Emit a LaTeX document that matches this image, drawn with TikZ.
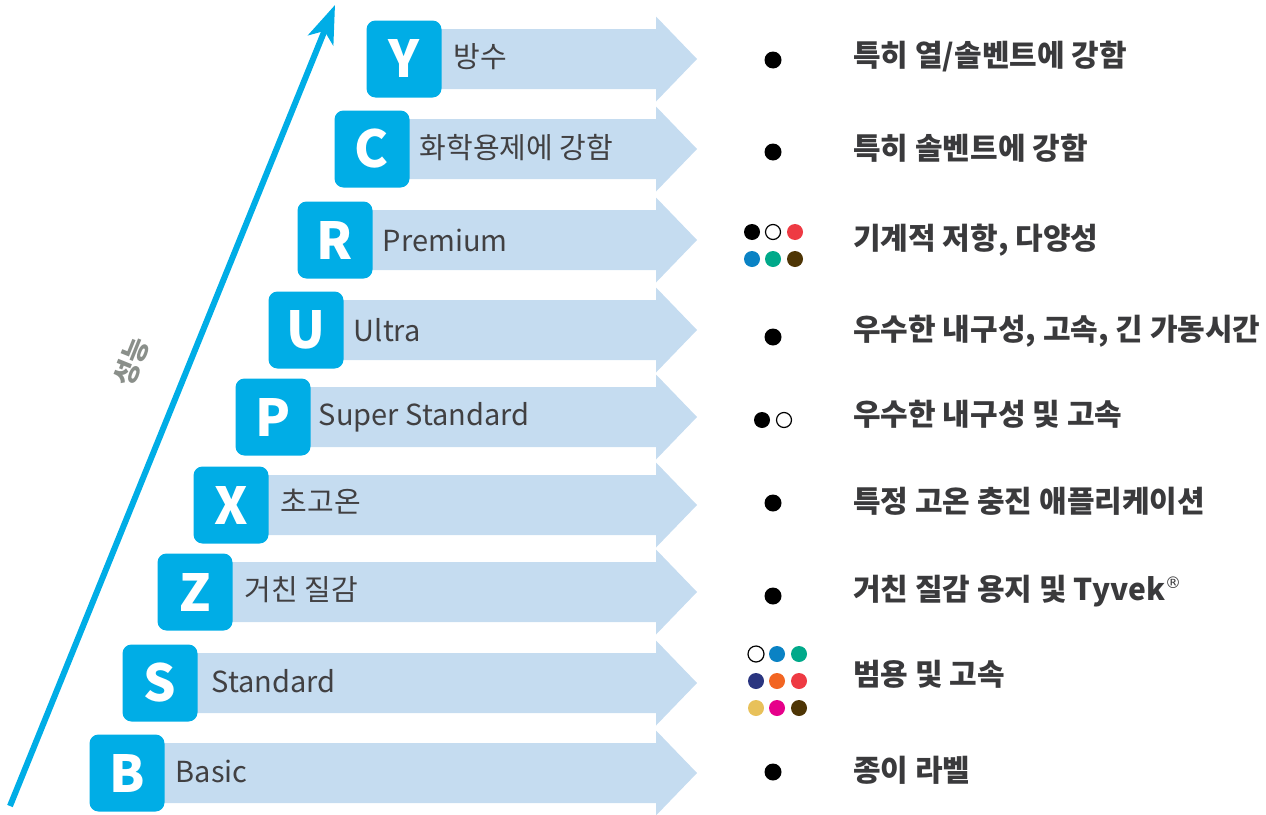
\documentclass[tikz,border=0pt]{standalone}
\usepackage{fontspec}
\setmainfont{Noto Sans CJK KR}
\newfontfamily\symfont{DejaVu Sans}
\usetikzlibrary{arrows.meta}
\definecolor{cyanbox}{HTML}{00ADE6}
\definecolor{bandc}{HTML}{C5DCF0}
\definecolor{txt}{HTML}{414042}
\definecolor{rtxt}{HTML}{3A3A3C}
\definecolor{lbl}{HTML}{8A8F8A}
\definecolor{dblue}{HTML}{0A82C4}
\definecolor{dteal}{HTML}{00A98A}
\definecolor{dred}{HTML}{EE3A43}
\definecolor{dbrown}{HTML}{4E3505}
\definecolor{dnavy}{HTML}{2A3580}
\definecolor{dorange}{HTML}{F26522}
\definecolor{dyellow}{HTML}{E8C15A}
\definecolor{dmagenta}{HTML}{E6008A}
\begin{document}
\begin{tikzpicture}[x=1pt,y=-1pt,
  letterbox/.style={fill=cyanbox, rounded corners=9pt, minimum width=75pt, minimum height=77pt,
    inner sep=0pt, text=white, font=\fontsize{51}{51}\selectfont\bfseries},
  bandtext/.style={anchor=west, inner sep=0pt, text=txt, font=\fontsize{29}{29}\selectfont},
  righttext/.style={anchor=west, inner sep=0pt, text=rtxt, font=\fontsize{30}{30}\selectfont\bfseries},
  dotb/.style={circle, fill=black, inner sep=0pt, minimum size=17pt},
  dotc/.style={circle, fill=#1, inner sep=0pt, minimum size=16pt},
  doto/.style={circle, draw=black, line width=1.2pt, fill=white, inner sep=0pt, minimum size=15pt},
  bandfill/.style={fill=bandc}
]
\useasboundingbox (0,0) rectangle (1266,814);

% bands
\foreach \cx/\cy in {404/59,372/149,335/240,306/330,273/417,231/505,195/592,160/683,127/773}{
  \fill[bandfill] (\cx,\cy-30) -- (656,\cy-30) -- (656,\cy-42.5) -- (697,\cy) -- (656,\cy+42.5) -- (656,\cy+30) -- (\cx,\cy+30) -- cycle;
}

% letter boxes
\node[letterbox] (bY) at (404,59) {Y};
\node[letterbox] (bC) at (372,149) {C};
\node[letterbox] (bR) at (335,240) {R};
\node[letterbox] (bU) at (306,330) {U};
\node[letterbox] (bP) at (273,417) {P};
\node[letterbox] (bX) at (231,505) {X};
\node[letterbox] (bZ) at (195,592) {Z};
\node[letterbox] (bS) at (160,683) {S};
\node[letterbox] (bB) at (127,773) {B};

% band texts
\node[bandtext] (tY) at ([xshift=12pt,yshift=2pt]bY.east) {방수};
\node[bandtext] (tC) at ([xshift=10pt,yshift=1pt]bC.east) {화학용제에 강함};
\node[bandtext] (tR) at ([xshift=10pt]bR.east) {Premium};
\node[bandtext] (tU) at ([xshift=10pt]bU.east) {Ultra};
\node[bandtext] (tP) at ([xshift=8pt]bP.east) {Super Standard};
\node[bandtext] (tX) at ([xshift=12pt,yshift=3pt]bX.east) {초고온};
\node[bandtext] (tZ) at ([xshift=12pt,yshift=2pt]bZ.east) {거친 질감};
\node[bandtext] (tS) at ([xshift=14pt,yshift=2pt]bS.east) {Standard};
\node[bandtext] (tB) at ([xshift=11pt,yshift=2pt]bB.east) {Basic};

% right texts
\node[righttext] (rY) at (853,57) {특히 열/솔벤트에 강함};
\node[righttext] (rC) at (853,148) {특히 솔벤트에 강함};
\node[righttext] (rR) at (853,240) {기계적 저항, 다양성};
\node[righttext] (rU) at (853,331) {우수한 내구성, 고속, 긴 가동시간};
\node[righttext] (rP) at (853,414) {우수한 내구성 및 고속};
\node[righttext] (rX) at (853,501) {특정 고온 충진 애플리케이션};
\node[righttext] (rZ) at (853,591) {거친 질감 용지 및 Tyvek\raisebox{0.38em}{\symfont\fontsize{16}{16}\selectfont\mdseries ®}};
\node[righttext] (rS) at (853,674) {범용 및 고속};
\node[righttext] (rB) at (853,770) {종이 라벨};

% dots
\node[dotb] (dY) at (773,60) {};
\node[dotb] (dC) at (773,152) {};
\node[dotb] (dU) at (773,337) {};
\node[dotb] (dX) at (773,503) {};
\node[dotb] (dZ) at (773,596) {};
\node[dotb] (dB) at (773,772) {};
% P row
\node[dotb, minimum size=16pt] (dP1) at (762,420) {};
\node[doto] (dP2) at (784,420) {};
% R row
\node[dotb, minimum size=16pt] (dR1) at (752,232) {};
\node[doto] (dR2) at (773,232) {};
\node[dotc=dred] (dR3) at (795,232) {};
\node[dotc=dblue] (dR4) at (752,259) {};
\node[dotc=dteal] (dR5) at (773,259) {};
\node[dotc=dbrown] (dR6) at (795,259) {};
% S row
\node[doto, minimum size=16pt] (dS1) at (756,654) {};
\node[dotc=dblue] (dS2) at (777,654) {};
\node[dotc=dteal] (dS3) at (799,654) {};
\node[dotc=dnavy] (dS4) at (756,681) {};
\node[dotc=dorange] (dS5) at (777,681) {};
\node[dotc=dred] (dS6) at (799,681) {};
\node[dotc=dyellow] (dS7) at (756,708) {};
\node[dotc=dmagenta] (dS8) at (777,708) {};
\node[dotc=dbrown] (dS9) at (799,708) {};

% performance arrow
\coordinate (arrS) at (10,806);
\coordinate (arrE) at (335,5);
\draw[cyanbox, line width=6pt, -{Stealth[length=38pt,width=27pt,inset=10pt]}] (arrS) -- (arrE);
\node[rotate=68, inner sep=0pt, text=lbl, font=\fontsize{27}{27}\selectfont\bfseries] (perf) at (131,362) {성능};
\end{tikzpicture}
\end{document}
